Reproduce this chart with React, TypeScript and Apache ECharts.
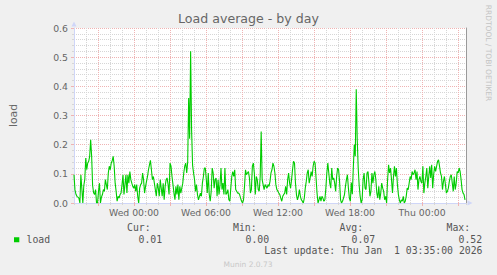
import React, { useEffect, useRef } from 'react';
import * as echarts from 'echarts';

// minutes relative to Wed 00:00; one sample every 5 minutes
const startMinute = -340;
const stepMinutes = 5;
const axisMin = -340;
const axisMax = 1660;
const gridAxisMin = -360; // multiple of 60, 180 and 360 for the grid-line axes

const loadValues = [
  0.097, 0.045, 0.03, 0.023, 0.02, 0.017, 0.0, 0.097, 0.05, 0.0,
  0.06, 0.08, 0.154, 0.114, 0.137, 0.143, 0.16, 0.217, 0.16, 0.06,
  0.035, 0.029, 0.046, 0.0, 0.0, 0.04, 0.068, 0.0, 0.02, 0.029,
  0.046, 0.04, 0.08, 0.063, 0.046, 0.103, 0.126, 0.114, 0.137, 0.145,
  0.16, 0.126, 0.068, 0.04, 0.006, 0.023, 0.017, 0.029, 0.034, 0.063,
  0.097, 0.029, 0.063, 0.097, 0.034, 0.097, 0.068, 0.108, 0.08, 0.068,
  0.057, 0.051, 0.063, 0.04, 0.063, 0.023, 0.0, 0.051, 0.063, 0.068,
  0.103, 0.08, 0.034, 0.057, 0.074, 0.091, 0.114, 0.131, 0.146, 0.114,
  0.08, 0.091, 0.068, 0.046, 0.023, 0.068, 0.051, 0.023, 0.08, 0.051,
  0.023, 0.068, 0.011, 0.057, 0.08, 0.086, 0.063, 0.029, 0.137, 0.126,
  0.091, 0.063, 0.034, 0.011, 0.057, 0.029, 0.063, 0.011, 0.057, 0.034,
  0.051, 0.068, 0.103, 0.126, 0.137, 0.103, 0.14, 0.36, 0.22, 0.52,
  0.25, 0.13, 0.103, 0.08, 0.04, 0.063, 0.029, 0.011, 0.023, 0.034,
  0.023, 0.068, 0.09, 0.12, 0.12, 0.08, 0.034, 0.103, 0.029, 0.006,
  0.04, 0.12, 0.103, 0.051, 0.08, 0.086, 0.023, 0.08, 0.029, 0.063,
  0.12, 0.046, 0.068, 0.029, 0.12, 0.029, 0.034, 0.046, 0.011, 0.006,
  0.051, 0.091, 0.108, 0.091, 0.114, 0.046, 0.04, 0.034, 0.034, 0.029,
  0.017, 0.006, 0.0, 0.011, 0.057, 0.114, 0.097, 0.103, 0.108, 0.086,
  0.034, 0.046, 0.126, 0.137, 0.103, 0.029, 0.091, 0.08, 0.046, 0.04,
  0.091, 0.245, 0.08, 0.063, 0.046, 0.063, 0.057, 0.051, 0.063, 0.057,
  0.074, 0.103, 0.114, 0.137, 0.126, 0.103, 0.063, 0.046, 0.04, 0.034,
  0.029, 0.017, 0.006, 0.023, 0.029, 0.034, 0.057, 0.029, 0.08, 0.103,
  0.068, 0.051, 0.08, 0.114, 0.143, 0.137, 0.068, 0.029, 0.011, 0.023,
  0.046, 0.023, 0.011, 0.006, 0.0, 0.017, 0.051, 0.074, 0.103, 0.114,
  0.068, 0.086, 0.108, 0.091, 0.126, 0.143, 0.137, 0.086, 0.034, 0.0,
  0.011, 0.023, 0.006, 0.023, 0.017, 0.006, 0.011, 0.051, 0.103, 0.137,
  0.103, 0.068, 0.051, 0.12, 0.08, 0.086, 0.068, 0.04, 0.091, 0.12,
  0.114, 0.074, 0.011, 0.0, 0.006, 0.017, 0.029, 0.057, 0.08, 0.097,
  0.051, 0.017, 0.006, 0.07, 0.03, 0.12, 0.2, 0.16, 0.39, 0.22,
  0.12, 0.06, 0.023, 0.0, 0.011, 0.08, 0.103, 0.051, 0.046, 0.103,
  0.108, 0.068, 0.023, 0.04, 0.103, 0.068, 0.097, 0.108, 0.08, 0.034,
  0.017, 0.057, 0.011, 0.034, 0.068, 0.051, 0.04, 0.011, 0.023, 0.0,
  0.08, 0.131, 0.103, 0.12, 0.08, 0.034, 0.091, 0.126, 0.091, 0.12,
  0.063, 0.029, 0.011, 0.0, 0.011, 0.006, 0.023, 0.0, 0.006, 0.023,
  0.051, 0.046, 0.068, 0.091, 0.08, 0.108, 0.097, 0.103, 0.114, 0.08,
  0.108, 0.046, 0.08, 0.091, 0.074, 0.068, 0.126, 0.034, 0.068, 0.091,
  0.12, 0.051, 0.091, 0.126, 0.086, 0.131, 0.051, 0.097, 0.126, 0.108,
  0.126, 0.143, 0.148, 0.126, 0.103, 0.091, 0.046, 0.074, 0.091, 0.063,
  0.034, 0.04, 0.051, 0.074, 0.091, 0.097, 0.068, 0.04, 0.091, 0.046,
  0.068, 0.108, 0.103, 0.12, 0.108, 0.08, 0.046, 0.034, 0.029, 0.011,
];

const xTickValues = [0, 360, 720, 1080, 1440];
const xTickLabels = ['Wed 00:00', 'Wed 06:00', 'Wed 12:00', 'Wed 18:00', 'Thu 00:00'];
const legendHeaders = ['Cur:', 'Min:', 'Avg:', 'Max:'];
const legendValues = ['0.01', '0.00', '0.07', '0.52'];
const seriesName = 'load';
const chartTitle = 'Load average - by day';
const lastUpdate = 'Last update: Thu Jan  1 03:35:00 2026';
const watermark = 'RRDTOOL / TOBI OETIKER';
const footer = 'Munin 2.0.73';

const GREEN = '#00CC00';
const FONT = '#666666';
const AXIS = '#CFD6F8';
const MINOR = '#d6d6d6';
const MAJOR = '#efb3b3';
const SANS = 'DejaVu Sans';
const MONO = 'DejaVu Sans Mono';

function txt(x: number, y: number, text: string, size: number, family: string, fill: string, align: string, extra: any = {}) {
  return {
    type: 'text',
    x,
    y,
    silent: true,
    ...extra,
    style: {
      text,
      fontSize: size,
      fontFamily: family,
      fill,
      align,
      verticalAlign: 'middle',
      textAlign: align,
      textVerticalAlign: 'middle',
    },
  };
}

export default function App() {
  const ref = useRef<HTMLDivElement>(null);
  useEffect(() => {
    document.body.style.margin = '0';
    const chart = echarts.init(ref.current!, null, { renderer: 'svg' });
    const headerX = [127, 233, 339.5, 446.5];
    const valueX = [138.5, 245.5, 351.5, 458.5];
    const graphics: any[] = [
      txt(248.5, 18.7, chartTitle, 12.6, SANS, FONT, 'center'),
      txt(488, 53, watermark, 7.5, SANS, '#c4c4c4', 'center', { rotation: -Math.PI / 2 }),
      { type: 'rect', silent: true, shape: { x: 14, y: 237.3, width: 5.3, height: 5 }, style: { fill: GREEN } },
      txt(26.5, 239.3, seriesName, 9.8, MONO, '#555', 'left'),
      txt(482.5, 250.8, lastUpdate, 9.8, MONO, '#555', 'right'),
      txt(248, 264.1, footer, 7.5, SANS, '#c8c8c8', 'center'),
    ];
    legendHeaders.forEach((h, i) => graphics.push(txt(headerX[i], 227.3, h, 9.8, MONO, '#555', 'left')));
    legendValues.forEach((v, i) => graphics.push(txt(valueX[i], 239.3, v, 9.8, MONO, '#555', 'left')));

    // the grid-line grid starts 20 minutes (4 px) earlier so that its min is a multiple of the intervals
    const pxPerMinute = 400 / (axisMax - axisMin);
    const gridLeft = 66 - (axisMin - gridAxisMin) * pxPerMinute;
    const gridWidth = (axisMax - gridAxisMin) * pxPerMinute;

    chart.setOption({
      animation: false,
      backgroundColor: '#F0F0F0',
      grid: [
        { left: 66, top: 28, width: 400, height: 175, show: true, backgroundColor: '#FFFFFF', borderWidth: 0 },
        { left: gridLeft, top: 28, width: gridWidth, height: 175, show: false },
      ],
      xAxis: [
        {
          gridIndex: 0, type: 'value', min: axisMin, max: axisMax, position: 'bottom',
          axisLine: { show: true, onZero: false, lineStyle: { color: AXIS, width: 1 }, symbol: ['none', 'triangle'], symbolSize: [5, 5], symbolOffset: [0, 4] },
          axisTick: { show: false },
          axisLabel: { show: false },
          splitLine: { show: false },
        },
        {
          gridIndex: 1, type: 'value', min: gridAxisMin, max: axisMax, interval: 60, position: 'bottom',
          axisLine: { show: false, onZero: false },
          axisTick: { show: true, length: 2, lineStyle: { color: MINOR } },
          axisLabel: { show: false },
          splitLine: { show: true, showMinLine: false, showMaxLine: false, lineStyle: { color: MINOR, width: 1, type: [1, 1] } },
        },
        {
          gridIndex: 1, type: 'value', min: gridAxisMin, max: axisMax, interval: 180, position: 'bottom',
          axisLine: { show: false, onZero: false },
          axisTick: { show: true, length: 3, lineStyle: { color: MAJOR } },
          axisLabel: {
            show: true, margin: 5, fontSize: 9.3, fontFamily: SANS, color: FONT,
            showMinLabel: false, showMaxLabel: false,
            formatter: (v: number) => {
              const i = xTickValues.indexOf(Math.round(v));
              return i >= 0 ? xTickLabels[i] : '';
            },
          },
          splitLine: { show: true, showMinLine: false, showMaxLine: false, lineStyle: { color: MAJOR, width: 1, type: [1, 1] } },
        },
      ],
      yAxis: [
        {
          gridIndex: 0, type: 'value', min: 0, max: 0.6, interval: 0.1,
          name: seriesName, nameLocation: 'middle', nameGap: 55, nameRotate: 90,
          nameTextStyle: { fontSize: 10.8, fontFamily: SANS, color: FONT },
          axisLine: { show: true, onZero: false, lineStyle: { color: AXIS, width: 1 }, symbol: ['none', 'triangle'], symbolSize: [5, 5], symbolOffset: [0, 4] },
          axisTick: { show: true, length: 3, lineStyle: { color: MAJOR } },
          minorTick: { show: true, splitNumber: 5, length: 2, lineStyle: { color: MINOR } },
          minorSplitLine: { show: true, lineStyle: { color: MINOR, width: 1, type: [1, 1] } },
          splitLine: { show: true, lineStyle: { color: MAJOR, width: 1, type: [1, 1] } },
          axisLabel: { margin: 6, fontSize: 9.3, fontFamily: SANS, color: FONT, formatter: (v: number) => v.toFixed(1) },
        },
        {
          gridIndex: 0, type: 'value', min: 0, max: 0.6, position: 'right',
          axisLine: { show: true, onZero: false, lineStyle: { color: '#9a9a9a', width: 1 } },
          axisTick: { show: false }, axisLabel: { show: false }, splitLine: { show: false },
        },
        {
          gridIndex: 1, type: 'value', min: 0, max: 0.6, show: false,
        },
      ],
      series: [
        {
          name: seriesName,
          type: 'line',
          xAxisIndex: 0,
          yAxisIndex: 0,
          data: loadValues.map((v, i) => [startMinute + i * stepMinutes, v]),
          symbol: 'none',
          showSymbol: false,
          lineStyle: { color: GREEN, width: 1.1 },
          itemStyle: { color: GREEN },
          z: 5,
        },
      ],
      graphic: graphics,
    });
    return () => chart.dispose();
  }, []);
  return <div ref={ref} style={{ width: 497, height: 275 }} />;
}
